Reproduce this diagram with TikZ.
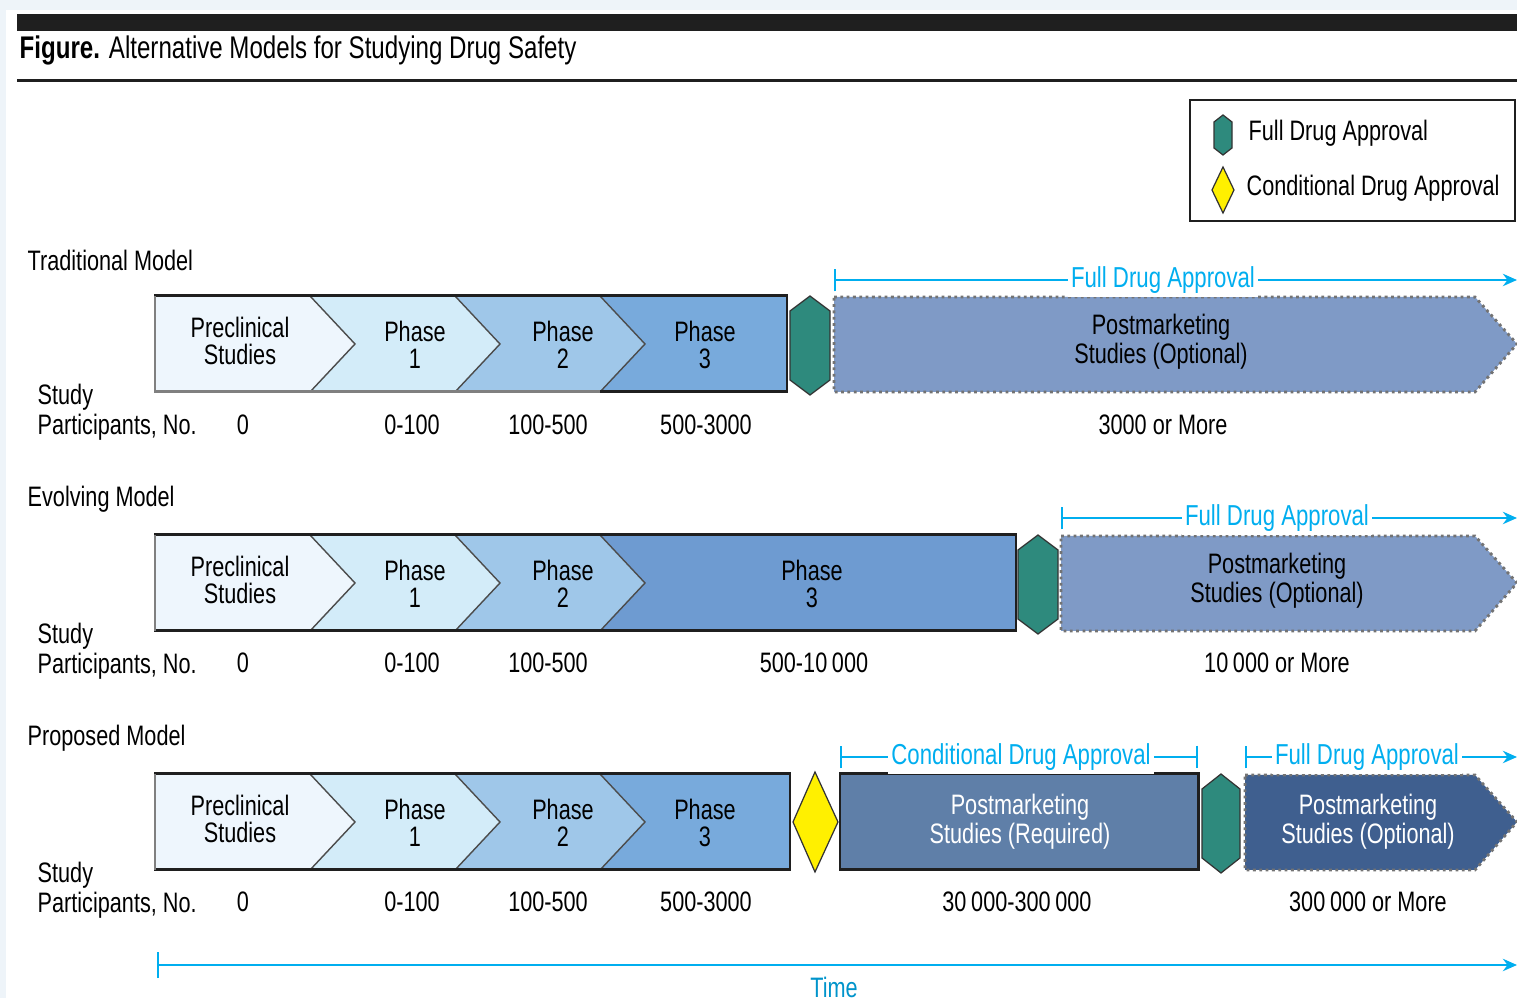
\documentclass[tikz,border=0pt]{standalone}
\usepackage{fontspec}
\setmainfont{Liberation Sans}[FakeStretch=0.77]
\usepackage{xcolor}
\usetikzlibrary{arrows.meta}
\definecolor{dsbg}{HTML}{EEF4F9}
\definecolor{dspre}{HTML}{EEF6FD}
\definecolor{dsone}{HTML}{D3ECF9}
\definecolor{dstwo}{HTML}{9FC7E9}
\definecolor{dsthree}{HTML}{78AADC}
\definecolor{dsthreeb}{HTML}{6E9BD1}
\definecolor{dsopt}{HTML}{7F9AC6}
\definecolor{dsreq}{HTML}{5F7FA8}
\definecolor{dsoptb}{HTML}{3F5F8F}
\definecolor{dsteal}{HTML}{2E8A7D}
\definecolor{dsyel}{HTML}{FFF000}
\definecolor{dsblue}{HTML}{00AEEF}
\tikzset{
  dsbar/.style={line width=0.85pt, draw=black!88},
  dsedge/.style={line width=0.85pt, draw=black!50},
  dschev/.style={line width=0.4pt, draw=black!70, line join=miter},
  dspost/.style={line width=0.8pt, draw=black!55, densely dotted},
  dsfull/.style={fill=dsteal, draw=black!80, line width=0.35pt},
  dscond/.style={fill=dsyel, draw=black!80, line width=0.35pt},
  dsspan/.style={line width=0.7pt, draw=dsblue},
  dsspantext/.style={fill=white, text=dsblue, inner sep=1pt, font=\fontsize{8.2}{9}\selectfont},
  dsin/.style={align=center, inner sep=0pt, font=\fontsize{8}{7.6}\selectfont},
  dspm/.style={align=center, inner sep=0pt, font=\fontsize{8}{8.3}\selectfont},
  dsnum/.style={inner sep=0pt, font=\fontsize{8}{9}\selectfont},
  dshead/.style={anchor=west, inner sep=0pt, font=\fontsize{8}{9}\selectfont},
  dsstudy/.style={anchor=west, align=left, inner sep=0pt, font=\fontsize{8}{8.6}\selectfont},
}

\begin{document}
\begin{tikzpicture}[x=0.01cm, y=-0.01cm]
\useasboundingbox (0,0) rectangle (1517,998);
\fill[dsbg] (0,0) rectangle (1517,998);
\fill[white] (6,10) rectangle (1517,998);

% title
\fill[black!88] (17,14) rectangle (1517,31);
\node[dshead, font=\fontsize{8.9}{9}\selectfont] (title) at (19,50) {\textbf{Figure.} Alternative Models for Studying Drug Safety};
\fill[black!88] (17,79) rectangle (1517,82);

% legend
\draw[line width=0.6pt, draw=black!88] (1190,100) rectangle (1515,221);
\draw[dsfull] (1223,115) -- (1232,122) -- (1232,148) -- (1223,155) -- (1214,148) -- (1214,122) -- cycle;
\draw[dscond] (1223,167) -- (1234,190) -- (1223,213) -- (1212,190) -- cycle;
\node[dshead] (legfull) at (1248,133) {Full Drug Approval};
\node[dshead] (legcond) at (1246,188) {Conditional Drug Approval};

% traditional model
\node[dshead] (tradhead) at (27,260) {Traditional Model};
\fill[dspre] (155,296) -- (310,296) -- (355,344) -- (310,392) -- (155,392) -- cycle;
\fill[dsone] (310,296) -- (455,296) -- (500,344) -- (455,392) -- (310,392) -- (355,344) -- cycle;
\fill[dstwo] (455,296) -- (600,296) -- (645,344) -- (600,392) -- (455,392) -- (500,344) -- cycle;
\fill[dsthree] (600,296) -- (787,296) -- (787,392) -- (600,392) -- (645,344) -- cycle;
\draw[dschev] (310,296) -- (355,344) -- (310,392);
\draw[dschev] (455,296) -- (500,344) -- (455,392);
\draw[dschev] (600,296) -- (645,344) -- (600,392);
\draw[dsbar] (155,296) rectangle (787,392);
\draw[dsedge] (155,296) -- (155,392) -- (600,392);
\draw[dsfull] (810,296) -- (830,311) -- (830,380) -- (810,395) -- (790,380) -- (790,311) -- cycle;
\fill[dsopt] (834,297) -- (1475,297) -- (1517,344) -- (1475,392) -- (834,392) -- cycle;
\draw[dspost] (834,297) -- (1475,297) -- (1517,344) -- (1475,392) -- (834,392) -- cycle;
\node[dsin] (tradpre) at (240,341) {Preclinical\\Studies};
\node[dsin] (tradp1) at (415,345) {Phase\\1};
\node[dsin] (tradp2) at (563,345) {Phase\\2};
\node[dsin] (tradp3) at (705,345) {Phase\\3};
\node[dspm] (tradpm) at (1161,342) {Postmarketing\\Studies (Optional)};
\coordinate (tradfa0) at (834,280);
\coordinate (tradfa1) at (1517,280);
\draw[dsspan, {Bar[width=6.5pt]}-{Stealth[length=4pt,width=3.5pt]}] (tradfa0) -- (tradfa1);
\node[dsspantext] (tradfa) at (1163,280) {Full Drug Approval};
\node[dsstudy] (tradstudy) at (37,412) {Study\\Participants, No.};
\node[dsnum] (tradn0) at (243,425) {0};
\node[dsnum] (tradn1) at (412,425) {0-100};
\node[dsnum] (tradn2) at (548,425) {100-500};
\node[dsnum] (tradn3) at (706,425) {500-3000};
\node[dsnum] (tradn4) at (1163,425) {3000 or More};

% evolving model
\node[dshead] (evolhead) at (27,499) {Evolving Model};
\fill[dspre] (155,535) -- (310,535) -- (355,583) -- (310,631) -- (155,631) -- cycle;
\fill[dsone] (310,535) -- (455,535) -- (500,583) -- (455,631) -- (310,631) -- (355,583) -- cycle;
\fill[dstwo] (455,535) -- (600,535) -- (645,583) -- (600,631) -- (455,631) -- (500,583) -- cycle;
\fill[dsthreeb] (600,535) -- (1016,535) -- (1016,631) -- (600,631) -- (645,583) -- cycle;
\draw[dschev] (310,535) -- (355,583) -- (310,631);
\draw[dschev] (455,535) -- (500,583) -- (455,631);
\draw[dschev] (600,535) -- (645,583) -- (600,631);
\draw[dsbar] (155,535) rectangle (1016,631);
\draw[dsedge] (155,535) -- (155,631);
\draw[dsfull] (1038,535) -- (1058,550) -- (1058,619) -- (1038,634) -- (1018,619) -- (1018,550) -- cycle;
\fill[dsopt] (1061,536) -- (1475,536) -- (1517,583) -- (1475,631) -- (1061,631) -- cycle;
\draw[dspost] (1061,536) -- (1475,536) -- (1517,583) -- (1475,631) -- (1061,631) -- cycle;
\node[dsin] (evolpre) at (240,580) {Preclinical\\Studies};
\node[dsin] (evolp1) at (415,584) {Phase\\1};
\node[dsin] (evolp2) at (563,584) {Phase\\2};
\node[dsin] (evolp3) at (812,584) {Phase\\3};
\node[dspm] (evolpm) at (1277,581) {Postmarketing\\Studies (Optional)};
\coordinate (evolfa0) at (1061,518);
\coordinate (evolfa1) at (1517,518);
\draw[dsspan, {Bar[width=6.5pt]}-{Stealth[length=4pt,width=3.5pt]}] (evolfa0) -- (evolfa1);
\node[dsspantext] (evolfa) at (1277,518) {Full Drug Approval};
\node[dsstudy] (evolstudy) at (37,651) {Study\\Participants, No.};
\node[dsnum] (evoln0) at (243,663) {0};
\node[dsnum] (evoln1) at (412,663) {0-100};
\node[dsnum] (evoln2) at (548,663) {100-500};
\node[dsnum] (evoln3) at (814,663) {500-10\,000};
\node[dsnum] (evoln4) at (1277,663) {10\,000 or More};

% proposed model
\node[dshead] (prophead) at (27,738) {Proposed Model};
\fill[dspre] (155,774) -- (310,774) -- (355,822) -- (310,870) -- (155,870) -- cycle;
\fill[dsone] (310,774) -- (455,774) -- (500,822) -- (455,870) -- (310,870) -- (355,822) -- cycle;
\fill[dstwo] (455,774) -- (600,774) -- (645,822) -- (600,870) -- (455,870) -- (500,822) -- cycle;
\fill[dsthree] (600,774) -- (790,774) -- (790,870) -- (600,870) -- (645,822) -- cycle;
\draw[dschev] (310,774) -- (355,822) -- (310,870);
\draw[dschev] (455,774) -- (500,822) -- (455,870);
\draw[dschev] (600,774) -- (645,822) -- (600,870);
\draw[dsbar] (155,774) rectangle (790,870);
\draw[dsedge] (155,774) -- (155,870);
\draw[dscond] (815,772) -- (838,822) -- (815,872) -- (793,822) -- cycle;
\draw[dsbar, fill=dsreq] (840,774) rectangle (1198,870);
\draw[dsfull] (1221,774) -- (1240,789) -- (1240,858) -- (1221,873) -- (1202,858) -- (1202,789) -- cycle;
\fill[dsoptb] (1245,775) -- (1475,775) -- (1517,822) -- (1475,870) -- (1245,870) -- cycle;
\draw[dspost] (1245,775) -- (1475,775) -- (1517,822) -- (1475,870) -- (1245,870) -- cycle;
\node[dsin] (proppre) at (240,819) {Preclinical\\Studies};
\node[dsin] (propp1) at (415,823) {Phase\\1};
\node[dsin] (propp2) at (563,823) {Phase\\2};
\node[dsin] (propp3) at (705,823) {Phase\\3};
\node[dspm, text=white] (proprq) at (1020,822) {Postmarketing\\Studies (Required)};
\node[dspm, text=white] (proppm) at (1368,822) {Postmarketing\\Studies (Optional)};
\coordinate (propca0) at (840,757);
\coordinate (propca1) at (1198,757);
\draw[dsspan, {Bar[width=6.5pt]}-{Bar[width=6.5pt]}] (propca0) -- (propca1);
\node[dsspantext] (propca) at (1021,757) {Conditional Drug Approval};
\coordinate (propfa0) at (1245,757);
\coordinate (propfa1) at (1517,757);
\draw[dsspan, {Bar[width=6.5pt]}-{Stealth[length=4pt,width=3.5pt]}] (propfa0) -- (propfa1);
\node[dsspantext] (propfa) at (1367,757) {Full Drug Approval};
\node[dsstudy] (propstudy) at (37,890) {Study\\Participants, No.};
\node[dsnum] (propn0) at (243,902) {0};
\node[dsnum] (propn1) at (412,902) {0-100};
\node[dsnum] (propn2) at (548,902) {100-500};
\node[dsnum] (propn3) at (706,902) {500-3000};
\node[dsnum] (propn4) at (1017,902) {30\,000-300\,000};
\node[dsnum] (propn5) at (1368,902) {300\,000 or More};

% time axis
\coordinate (time0) at (157,965);
\coordinate (time1) at (1517,965);
\draw[dsspan, {Bar[width=7.5pt]}-{Stealth[length=4pt,width=3.5pt]}] (time0) -- (time1);
\node[dsnum, text=dsblue!85!black] (timelabel) at (834,987) {Time};
\end{tikzpicture}
\end{document}
